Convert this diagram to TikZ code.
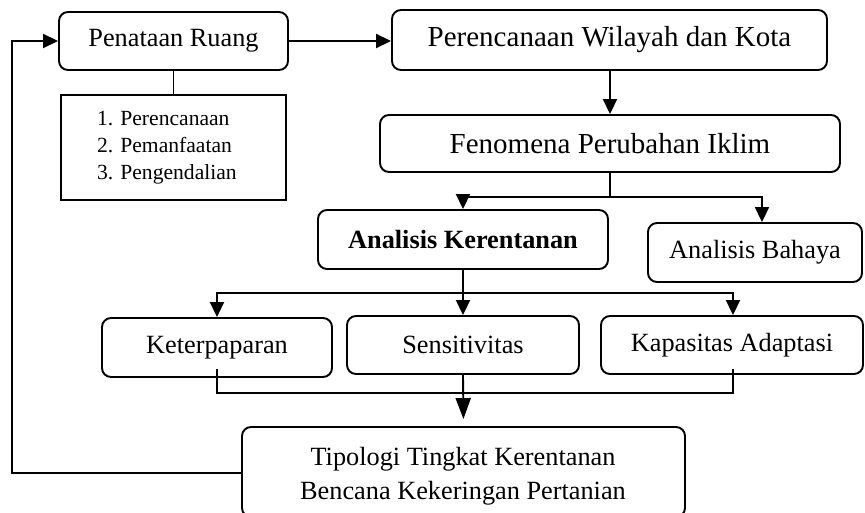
\documentclass[tikz,border=0pt]{standalone}
\usepackage{fontspec}
\setmainfont{Liberation Serif}
\usetikzlibrary{arrows.meta}
\frenchspacing
\begin{document}
\begin{tikzpicture}[x=1pt,y=-1pt,
  box/.style={draw,line width=1.9pt,rounded corners=9pt,inner sep=0pt,font=\fontsize{26.3}{30}\selectfont},
  big/.style={font=\fontsize{29}{33}\selectfont},
  conn/.style={line width=1.9pt},
  arr/.style={conn,-{Triangle[length=15pt,width=14pt]}},
  longarr/.style={conn,-{Triangle[length=21pt,width=15pt]}},
  thin/.style={line width=0.9pt}]
\useasboundingbox (0,0) rectangle (865,512);
\begin{scope}
\clip (0,0) rectangle (865,512);
% boxes
\node[box,minimum width=229pt,minimum height=58pt] (pr) at (173.5,41) {Penataan Ruang};
\node[draw,line width=1.9pt,inner xsep=36pt,inner ysep=0pt,text width=153pt,minimum height=105pt,align=left,
      font=\fontsize{21.6}{27}\selectfont] (list) at (173.5,147.5) {1. Perencanaan\\2. Pemanfaatan\\3. Pengendalian};
\node[box,big,minimum width=435pt,minimum height=60pt] (pwk) at (609.5,40) {Perencanaan Wilayah dan Kota};
\node[box,big,minimum width=460pt,minimum height=57pt] (fpi) at (610,143.5) {Fenomena Perubahan Iklim};
\node[box,minimum width=290pt,minimum height=59pt,font=\fontsize{26.3}{30}\selectfont\bfseries] (ak) at (463,239.5) {Analisis Kerentanan};
\node[box,minimum width=214pt,minimum height=59pt] (ab) at (755,252.5) {Analisis Bahaya};
\node[box,minimum width=230pt,minimum height=59pt] (ket) at (217,347.5) {Keterpaparan};
\node[box,minimum width=232pt,minimum height=58pt] (sen) at (463,345) {Sensitivitas};
\node[box,minimum width=262pt,minimum height=58pt] (kap) at (732,345) {Kapasitas Adaptasi};
\node[box,minimum width=443pt,minimum height=90pt] (tip) at (463.5,472) {};
\node[align=center,inner sep=0pt,font=\fontsize{26.3}{34}\selectfont] (tiptext) at (463,476) {Tipologi Tingkat Kerentanan\\Bencana Kekeringan Pertanian};
% junction coordinates
\coordinate (fb) at (12,300);
\coordinate (j1) at (610,197);
\coordinate (j2) at (463,293);
\coordinate (j3) at (463,393);
% connectors
\draw[arr] ([yshift=-1pt]tip.west) -| (fb) |- (pr.west);
\draw[arr] (pr.east) -- (pr.east -| pwk.west);
\draw[thin] (pr.south) -- (list.north);
\draw[arr] (pwk.south -| fpi.north) -- (fpi.north);
\draw[conn] (fpi.south) -- (j1);
\draw[arr] (j1) -| (ak.north);
\draw[arr] (j1) -| ([xshift=7pt]ab.north);
\draw[arr] (ak.south) -- (sen.north);
\draw[arr] (j2) -| (ket.north);
\draw[arr] (j2) -| ([xshift=1pt]kap.north);
\draw[conn] ([yshift=9pt]ket.south) |- (j3) -| ([yshift=6pt,xshift=1pt]kap.south);
\draw[longarr,shorten >=7pt] (sen.south) -- (tip.north);
\end{scope}
\end{tikzpicture}
\end{document}
